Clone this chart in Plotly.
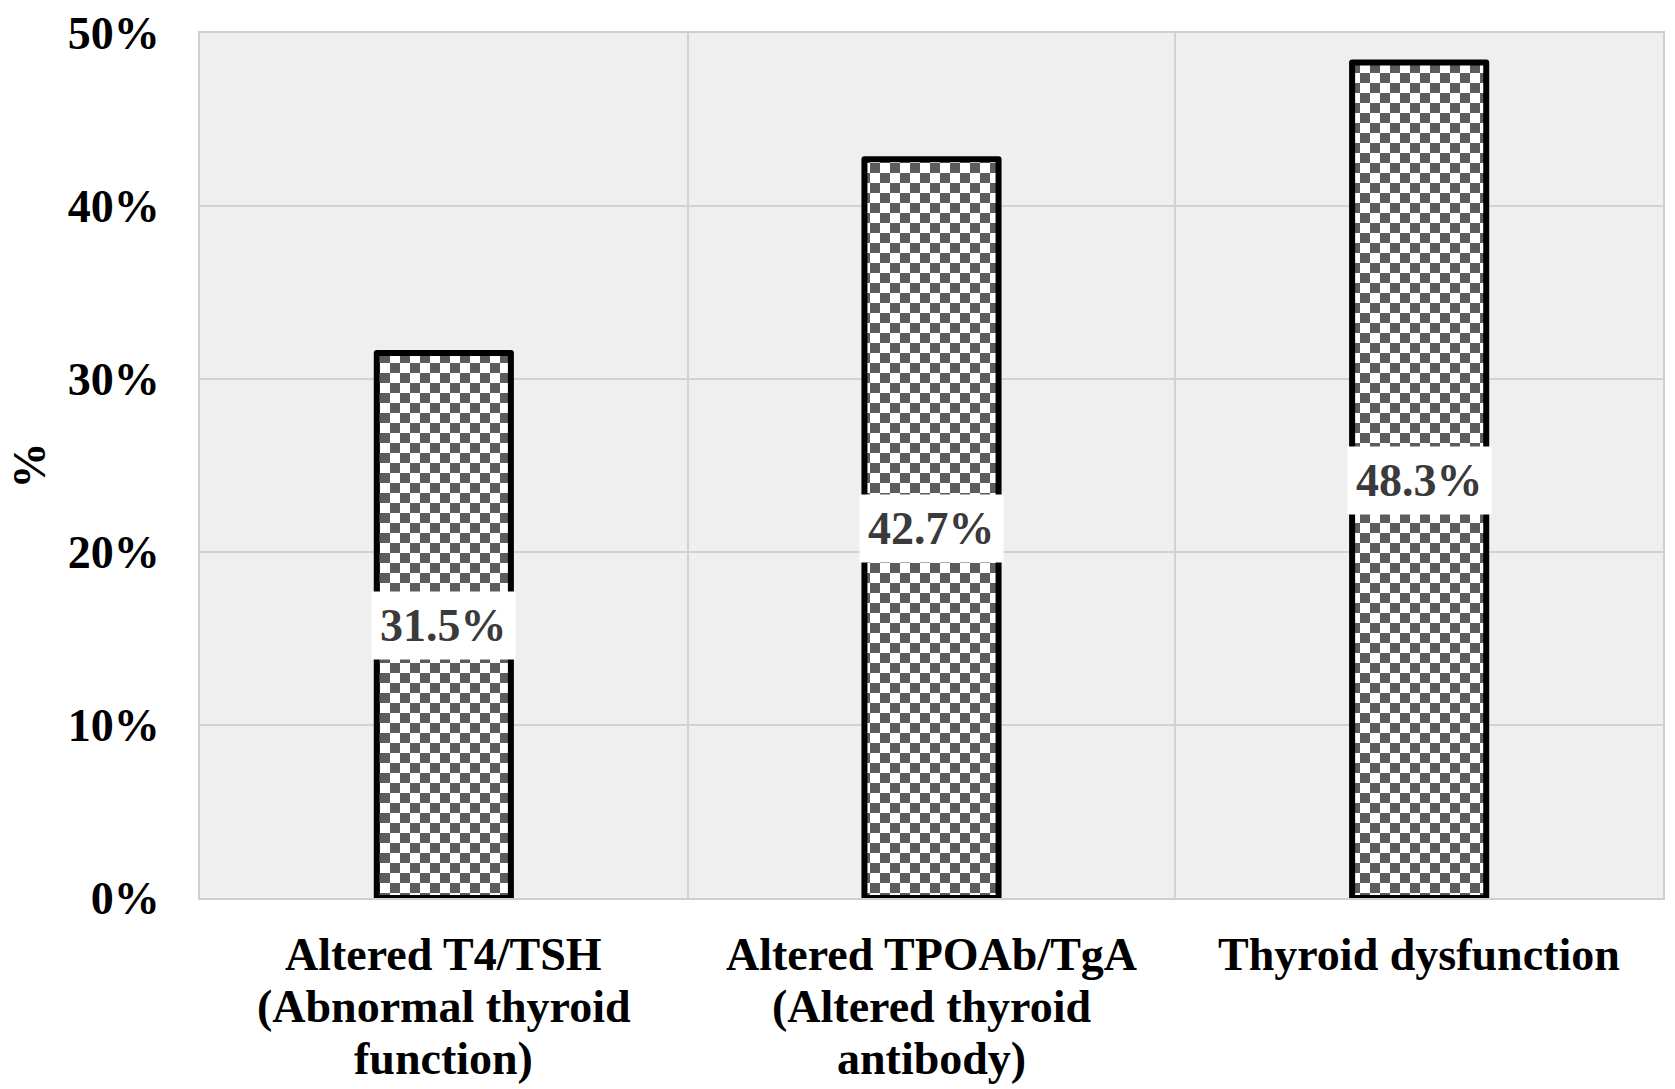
import plotly.graph_objects as go

categories = ["Altered T4/TSH", "Altered TPOAb/TgA", "Thyroid dysfunction"]
category_sublines = [
    ["(Abnormal thyroid", "function)"],
    ["(Altered thyroid", "antibody)"],
    [],
]
values = [31.5, 42.7, 48.3]
y_ticks = [0, 10, 20, 30, 40, 50]
y_tick_labels = ["0%", "10%", "20%", "30%", "40%", "50%"]

FONT = "Liberation Serif"
DARK = "#5e5b5d"

fig = go.Figure()
fig.add_trace(go.Bar(
    x=categories,
    y=values,
    width=0.275,
    marker=dict(color=DARK, line=dict(color="#000000", width=6)),
    hoverinfo="skip",
))

for c, v in zip(categories, values):
    fig.add_annotation(
        x=c, y=v / 2, xref="x", yref="y",
        text=f"{v}%", showarrow=False,
        bgcolor="#ffffff", borderpad=8,
        font=dict(family=FONT, size=46, color="#3a3a3a", weight="bold"),
    )

# category labels, one line per annotation for tight line spacing
for c, subs in zip(categories, category_sublines):
    for i, line in enumerate([c] + subs):
        fig.add_annotation(
            x=c, y=0, xref="x", yref="paper",
            text=line, showarrow=False, yanchor="middle",
            yshift=-(56 + 52 * i),
            font=dict(family=FONT, size=46, color="#000000", weight="bold"),
        )

fig.update_layout(
    width=1675, height=1089,
    margin=dict(l=200, r=12, t=33, b=191),
    paper_bgcolor="#ffffff",
    plot_bgcolor="#efefef",
    showlegend=False,
    font=dict(family=FONT, size=46, color="#000000", weight="bold"),
)
fig.update_xaxes(
    tickson="boundaries", showgrid=True, gridcolor="#d2d2d2", gridwidth=2,
    showline=True, mirror=True, linecolor="#cfcfcf", linewidth=2,
    ticks="", showticklabels=False, automargin=False,
)
fig.update_yaxes(
    range=[0, 50], tickvals=y_ticks, ticktext=y_tick_labels,
    showgrid=True, gridcolor="#d2d2d2", gridwidth=2,
    showline=True, mirror=True, linecolor="#cfcfcf", linewidth=2,
    zeroline=False, ticks="", ticklabelstandoff=29, automargin=False,
    tickfont=dict(family=FONT, size=46, color="#000000", weight="bold"),
    title=dict(text="%", standoff=8,
               font=dict(family=FONT, size=46, color="#000000", weight="bold")),
)

post = """
document.body.style.margin = '0';
var gd = document.getElementById('{plot_id}');
var ns = 'http://www.w3.org/2000/svg';
function checker(){
  var svg = gd.querySelector('svg.main-svg');
  if(!svg) return;
  var defs = svg.querySelector('defs');
  if(!svg.querySelector('#chk')){
    var p = document.createElementNS(ns, 'pattern');
    p.setAttribute('id', 'chk');
    p.setAttribute('patternUnits', 'userSpaceOnUse');
    p.setAttribute('width', '20');
    p.setAttribute('height', '20');
    var specs = [[0,0,20,20,'#ffffff'],[0,0,10,10,'#5e5b5d'],[10,10,10,10,'#5e5b5d']];
    specs.forEach(function(s){
      var r = document.createElementNS(ns, 'rect');
      r.setAttribute('x', s[0]); r.setAttribute('y', s[1]);
      r.setAttribute('width', s[2]); r.setAttribute('height', s[3]);
      r.setAttribute('fill', s[4]);
      p.appendChild(r);
    });
    defs.appendChild(p);
  }
  gd.querySelectorAll('.barlayer .point path').forEach(function(el){
    el.style.fill = 'url(#chk)';
    el.style.strokeLinejoin = 'round';
  });
}
checker();
gd.on('plotly_afterplot', checker);
"""

fig.write_html("out.html", post_script=post, config={"displayModeBar": False})
